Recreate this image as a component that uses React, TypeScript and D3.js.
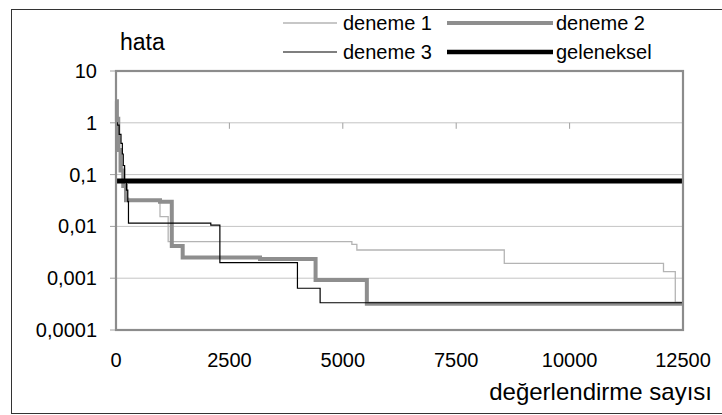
import React, { useRef, useEffect } from 'react';
import * as d3 from 'd3';

const xTicks = [0, 2500, 5000, 7500, 10000, 12500];
const yTicks = [10, 1, 0.1, 0.01, 0.001, 0.0001];
const yTickLabels = ['10', '1', '0,1', '0,01', '0,001', '0,0001'];

// step series (value holds until next x)
const deneme1X = [0, 30, 80, 150, 220, 280, 970, 1150, 5200, 5310, 8560, 12070, 12330, 12500];
const deneme1Y = [1.8, 0.5, 0.15, 0.06, 0.035, 0.031, 0.0154, 0.0051, 0.0045, 0.0035, 0.00194, 0.00134, 0.00034, 0.00034];

const deneme2X = [0, 20, 50, 100, 160, 220, 970, 1230, 1470, 3175, 4400, 5530, 12500];
const deneme2Y = [2.6, 1.2, 0.3, 0.12, 0.06, 0.032, 0.030, 0.0042, 0.0025, 0.00235, 0.00092, 0.00032, 0.00032];

const deneme3X = [0, 30, 70, 110, 140, 160, 190, 230, 260, 275, 2090, 2290, 4000, 4500, 12500];
const deneme3Y = [1.0, 0.9, 0.6, 0.4, 0.25, 0.15, 0.08, 0.05, 0.03, 0.0116, 0.0106, 0.002, 0.00064, 0.000336, 0.000336];

const gelenekselX = [0, 12500];
const gelenekselY = [0.075, 0.075];

const seriesNames = ['deneme 1', 'deneme 2', 'deneme 3', 'geleneksel'];

const FONT = '"Liberation Sans", Arial, sans-serif';

const App = () => {
  const ref = useRef<SVGSVGElement>(null);

  useEffect(() => {
    const svg = d3.select(ref.current);
    svg.selectAll('*').remove();

    const left = 116, right = 683, top = 71, bottom = 330;

    const x = d3.scaleLinear().domain([0, 12500]).range([left, right]);
    const y = d3.scaleLog().domain([0.0001, 10]).range([bottom, top]);

    // outer frame
    svg.append('rect')
      .attr('x', 11.5).attr('y', 9.5)
      .attr('width', 730).attr('height', 404)
      .attr('fill', 'white')
      .attr('stroke', '#333').attr('stroke-width', 1);

    // gridlines
    svg.append('g')
      .selectAll('line')
      .data(yTicks.slice(1, -1))
      .enter()
      .append('line')
      .attr('x1', left).attr('x2', right)
      .attr('y1', d => y(d)).attr('y2', d => y(d))
      .attr('stroke', '#c4c4c4').attr('stroke-width', 1);

    // x axis crosses at 1 -> tick marks below that line
    svg.append('g')
      .selectAll('line')
      .data(xTicks)
      .enter()
      .append('line')
      .attr('x1', d => x(d)).attr('x2', d => x(d))
      .attr('y1', y(1)).attr('y2', y(1) + 6)
      .attr('stroke', '#a0a0a0').attr('stroke-width', 1);

    // y tick marks
    svg.append('g')
      .selectAll('line')
      .data(yTicks)
      .enter()
      .append('line')
      .attr('x1', left - 6).attr('x2', left)
      .attr('y1', d => y(d)).attr('y2', d => y(d))
      .attr('stroke', '#a0a0a0').attr('stroke-width', 1);

    const mk = (xs: number[], ys: number[]) => xs.map((v, i) => [v, ys[i]] as [number, number]);
    const line = d3.line<[number, number]>()
      .x(d => x(d[0]))
      .y(d => y(d[1]))
      .curve(d3.curveStepAfter);

    const series = [
      { data: mk(deneme1X, deneme1Y), color: '#b4b4b4', w: 1.3 },
      { data: mk(deneme2X, deneme2Y), color: '#8e8e8e', w: 4 },
      { data: mk(deneme3X, deneme3Y), color: '#000', w: 1.2 },
      { data: mk(gelenekselX, gelenekselY), color: '#000', w: 5 },
    ];

    svg.append('g')
      .selectAll('path')
      .data(series)
      .enter()
      .append('path')
      .attr('d', d => line(d.data))
      .attr('fill', 'none')
      .attr('stroke', d => d.color)
      .attr('stroke-width', d => d.w);

    // plot border
    svg.append('rect')
      .attr('x', left).attr('y', top)
      .attr('width', right - left).attr('height', bottom - top)
      .attr('fill', 'none')
      .attr('stroke', '#8c8c8c').attr('stroke-width', 2.2);

    // tick labels
    svg.append('g')
      .selectAll('text')
      .data(yTicks)
      .enter()
      .append('text')
      .attr('x', 97)
      .attr('y', d => y(d))
      .attr('dy', '0.35em')
      .attr('text-anchor', 'end')
      .attr('font-family', FONT)
      .attr('font-size', 20)
      .text((d, i) => yTickLabels[i]);

    svg.append('g')
      .selectAll('text')
      .data(xTicks)
      .enter()
      .append('text')
      .attr('x', d => x(d))
      .attr('y', 367)
      .attr('text-anchor', 'middle')
      .attr('font-family', FONT)
      .attr('font-size', 20)
      .text(d => String(d));

    // axis titles
    svg.append('text')
      .attr('x', 120).attr('y', 50)
      .attr('font-family', FONT).attr('font-size', 23)
      .text('hata');

    svg.append('text')
      .attr('x', 712).attr('y', 400)
      .attr('text-anchor', 'end')
      .attr('font-family', FONT).attr('font-size', 24)
      .text('değerlendirme sayısı');

    // legend
    const legendItems = [
      { name: seriesNames[0], x1: 283, x2: 337, tx: 343, y: 23, ...series[0] },
      { name: seriesNames[1], x1: 447, x2: 553, tx: 556, y: 23, ...series[1] },
      { name: seriesNames[2], x1: 283, x2: 337, tx: 343, y: 52, ...series[2] },
      { name: seriesNames[3], x1: 447, x2: 553, tx: 556, y: 52, ...series[3] },
    ];
    const lg = svg.append('g');
    legendItems.forEach(it => {
      lg.append('line')
        .attr('x1', it.x1).attr('x2', it.x2)
        .attr('y1', it.y).attr('y2', it.y)
        .attr('stroke', it.color)
        .attr('stroke-width', it.w === 5 ? 4.5 : it.w);
      lg.append('text')
        .attr('x', it.tx).attr('y', it.y)
        .attr('dy', '0.35em')
        .attr('font-family', FONT)
        .attr('font-size', 20)
        .text(it.name);
    });
  }, []);

  return (
    <svg
      ref={ref}
      width={722}
      height={415}
      style={{ position: 'absolute', left: 0, top: 0, background: 'white' }}
    />
  );
};

export default App;
